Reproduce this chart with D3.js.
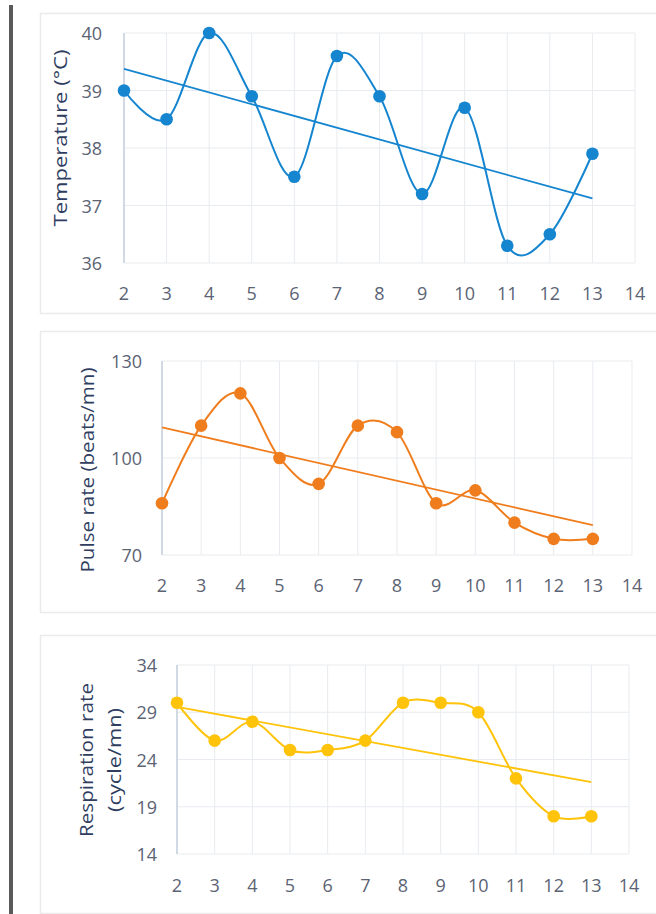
<!DOCTYPE html>
<html>
<head>
<meta charset="utf-8">
<script src="https://cdn.jsdelivr.net/npm/d3@7"></script>
<style>
  html, body { margin: 0; padding: 0; background: #ffffff; }
  svg { display: block; font-family: "Open Sans", "DejaVu Sans", sans-serif; }
</style>
</head>
<body>
<svg id="chart" width="656" height="914"></svg>
<script>
// Days of follow-up (x values shared by all three charts)
const days = [2, 3, 4, 5, 6, 7, 8, 9, 10, 11, 12, 13];
const xTickValues = [2, 3, 4, 5, 6, 7, 8, 9, 10, 11, 12, 13, 14];

// Vital signs per day
const temperature = [39, 38.5, 40, 38.9, 37.5, 39.6, 38.9, 37.2, 38.7, 36.3, 36.5, 37.9];
const pulseRate = [86, 110, 120, 100, 92, 110, 108, 86, 90, 80, 75, 75];
const respirationRate = [30, 26, 28, 25, 25, 26, 30, 30, 29, 22, 18, 18];

// Y tick labels for each chart
const temperatureTicks = [36, 37, 38, 39, 40];
const pulseTicks = [70, 100, 130];
const respirationTicks = [14, 19, 24, 29, 34];

// Axis titles (one entry per text line)
const temperatureTitle = ["Temperature (°C)"];
const pulseTitle = ["Pulse rate (beats/mn)"];
const respirationTitle = ["Respiration rate", "(cycle/mn)"];

const panels = [
  { values: temperature, ticks: temperatureTicks, title: temperatureTitle, color: "#1585cf",
    box: [13, 313], plot: { left: 124, right: 635, top: 33, bottom: 263 },
    yLabelRight: 102, xLabelY: 293, titleX: [60], titleY: 138, titleLen: [177] },
  { values: pulseRate, ticks: pulseTicks, title: pulseTitle, color: "#f07d1d",
    box: [331, 612], plot: { left: 162, right: 632, top: 361, bottom: 555 },
    yLabelRight: 142, xLabelY: 585, titleX: [87], titleY: 470, titleLen: [205] },
  { values: respirationRate, ticks: respirationTicks, title: respirationTitle, color: "#ffc30a",
    box: [635, 913], plot: { left: 177, right: 629, top: 665, bottom: 854 },
    yLabelRight: 157, xLabelY: 885, titleX: [86, 114], titleY: 760, titleLen: [154, 104] }
];

const svg = d3.select("#chart");

// Dark rule down the left margin of the page
svg.append("rect").attr("x", 9).attr("y", 5).attr("width", 4).attr("height", 909).attr("fill", "#5a5a5a");

// Least-squares linear trend
function linearFit(xs, ys) {
  const mx = d3.mean(xs), my = d3.mean(ys);
  const sxy = d3.sum(xs, (x, i) => (x - mx) * (ys[i] - my));
  const sxx = d3.sum(xs, x => (x - mx) * (x - mx));
  const slope = sxy / sxx;
  return x => my + slope * (x - mx);
}

panels.forEach(p => {
  const g = svg.append("g");

  // Chart area frame
  g.append("rect")
    .attr("x", 40.5).attr("y", p.box[0] + 0.5)
    .attr("width", 640).attr("height", p.box[1] - p.box[0])
    .attr("fill", "#ffffff").attr("stroke", "#ebebeb").attr("stroke-width", 1.5);

  const x = d3.scaleLinear().domain([d3.min(xTickValues), d3.max(xTickValues)])
    .range([p.plot.left, p.plot.right]);
  const y = d3.scaleLinear().domain([d3.min(p.ticks), d3.max(p.ticks)])
    .range([p.plot.bottom, p.plot.top]);

  // Gridlines
  g.append("g").selectAll("line").data(xTickValues).join("line")
    .attr("x1", d => x(d)).attr("x2", d => x(d))
    .attr("y1", p.plot.top).attr("y2", p.plot.bottom)
    .attr("stroke", "#e8ebef").attr("stroke-width", 1);
  g.append("g").selectAll("line").data(p.ticks).join("line")
    .attr("x1", p.plot.left).attr("x2", p.plot.right)
    .attr("y1", d => y(d)).attr("y2", d => y(d))
    .attr("stroke", "#e8ebef").attr("stroke-width", 1);

  // Vertical axis line
  g.append("line")
    .attr("x1", p.plot.left).attr("x2", p.plot.left)
    .attr("y1", p.plot.top).attr("y2", p.plot.bottom)
    .attr("stroke", "#b9c6d8").attr("stroke-width", 1.2);

  // Tick labels
  g.append("g").selectAll("text").data(p.ticks).join("text")
    .attr("x", p.yLabelRight).attr("y", d => y(d))
    .attr("text-anchor", "end").attr("dominant-baseline", "central")
    .attr("font-size", 18).attr("fill", "#5b6374")
    .text(d => d);
  g.append("g").selectAll("text").data(xTickValues).join("text")
    .attr("x", d => x(d)).attr("y", p.xLabelY)
    .attr("text-anchor", "middle").attr("dominant-baseline", "central")
    .attr("font-size", 18).attr("fill", "#5b6374")
    .text(d => d);

  // Axis title
  p.title.forEach((line, i) => {
    g.append("text")
      .attr("transform", `translate(${p.titleX[i]},${p.titleY}) rotate(-90)`)
      .attr("text-anchor", "middle").attr("dominant-baseline", "central")
      .attr("font-size", 18).attr("fill", "#2f3e5f")
      .attr("textLength", p.titleLen[i]).attr("lengthAdjust", "spacingAndGlyphs")
      .text(line);
  });

  const pts = days.map((d, i) => [x(d), y(p.values[i])]);

  // Smoothed series line
  g.append("path")
    .attr("d", d3.line().curve(d3.curveCardinal.tension(0))(pts))
    .attr("fill", "none").attr("stroke", p.color).attr("stroke-width", 2);

  // Linear trendline
  const fit = linearFit(days, p.values);
  const xs = [d3.min(days), d3.max(days)];
  g.append("line")
    .attr("x1", x(xs[0])).attr("y1", y(fit(xs[0])))
    .attr("x2", x(xs[1])).attr("y2", y(fit(xs[1])))
    .attr("stroke", p.color).attr("stroke-width", 1.8);

  // Markers
  g.append("g").selectAll("circle").data(pts).join("circle")
    .attr("cx", d => d[0]).attr("cy", d => d[1]).attr("r", 6.3)
    .attr("fill", p.color);
});
</script>
</body>
</html>
